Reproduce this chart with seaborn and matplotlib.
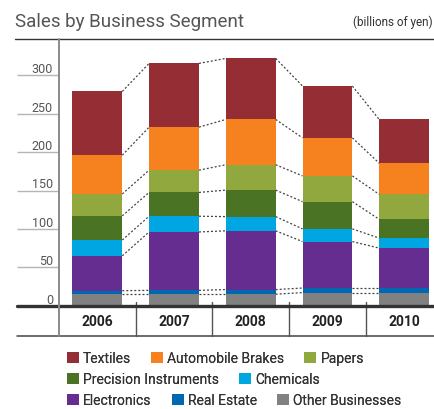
import matplotlib
matplotlib.use("Agg")
import matplotlib.pyplot as plt
import matplotlib.transforms as mtransforms
import numpy as np
import pandas as pd
import seaborn as sns

years = ["2006", "2007", "2008", "2009", "2010"]
segments = ["Other Businesses", "Real Estate", "Electronics", "Chemicals",
            "Precision Instruments", "Papers", "Automobile Brakes", "Textiles"]
other = [15, 15, 15, 17, 17]
real_estate = [4.5, 5, 6, 6, 6]
electronics = [45.5, 76, 76.5, 60.5, 52]
chemicals = [20.5, 20.5, 18.5, 16.5, 13]
precision = [31.5, 31, 34.5, 35.5, 24.5]
papers = [28.5, 29, 33, 33.5, 32.5]
brakes = [50.5, 56, 59, 49.5, 40.5]
textiles = [83, 83, 79.5, 67.5, 57]
colors = ["#818181", "#0067B1", "#652D90", "#00A6E1",
          "#4A7323", "#91A83F", "#F5821F", "#952D35"]
yticks = [0, 50, 100, 150, 200, 250, 300]

series = [other, real_estate, electronics, chemicals, precision, papers, brakes, textiles]
df = pd.DataFrame({"year": years})
for name, vals in zip(segments, series):
    df[name] = vals

sns.set_theme(style="white")
plt.rcParams["font.family"] = ["Roboto", "DejaVu Sans"]

W, H = 435, 410
fig = plt.figure(figsize=(W / 100, H / 100), dpi=100)
ax_left, ax_right, ax_top, ax_bot = 59, 442.5, 40, 306.7
ax = fig.add_axes([ax_left / W, 1 - ax_bot / H, (ax_right - ax_left) / W, (ax_bot - ax_top) / H])
axw = ax_right - ax_left
axh = ax_bot - ax_top

bw = 0.65
bottom = np.zeros(len(years))
cum_tops = []
for name, col in zip(segments, colors):
    sns.barplot(data=df, x="year", y=name, order=years, color=col, bottom=bottom,
                width=bw, saturation=1, linewidth=0, ax=ax)
    bottom = bottom + df[name].to_numpy()
    cum_tops.append(bottom.copy())

# dotted connectors between bars
for tops in cum_tops:
    for i in range(len(years) - 1):
        ax.plot([i + bw / 2, i + 1 - bw / 2], [tops[i], tops[i + 1]],
                linestyle=(0, (1.6, 1.6)), color="#444444", lw=0.9, zorder=3)

ax.set_xlim(-0.5, 4.5)
ax.set_ylim(0, (ax_bot - ax_top) / 0.768)
for s in ax.spines.values():
    s.set_visible(False)
ax.set_xlabel("")
ax.set_ylabel("")

# y ticks: long light tick lines to the left, labels above them
ax.set_yticks(yticks)
ax.set_yticklabels([str(t) for t in yticks])
tick_len_px = 42
ax.tick_params(axis="y", length=tick_len_px * 0.72, width=1, color="#b5b5b5",
               labelsize=9, labelcolor="#555555", pad=-(tick_len_px - 6) * 0.72, left=True)
for lbl in ax.get_yticklabels():
    lbl.set_verticalalignment("bottom")
    lbl.set_horizontalalignment("right")

# x ticks: year labels in table row
ax.set_xticks(range(len(years)))
ax.set_xticklabels(years)
ax.tick_params(axis="x", length=0, pad=6, labelsize=10, labelcolor="#222222")
for lbl in ax.get_xticklabels():
    lbl.set_fontweight("bold")

ta = ax.transAxes
bx = mtransforms.blended_transform_factory(ax.transData, ax.transAxes)
x_l17 = (17 - ax_left) / axw
x_l15 = (15 - ax_left) / axw
y_tab = -(337 - ax_bot) / axh

# title rule
ax.plot([x_l15, 1], [1, 1], transform=ta, color="#333333", lw=1, clip_on=False)
# baseline
ax.plot([x_l17, 1], [0, 0], transform=ta, color="#333333", lw=2.4, clip_on=False, zorder=5)
# table bottom
ax.plot([x_l17, 1], [y_tab, y_tab], transform=ta, color="#444444", lw=1.1, clip_on=False)
# vertical axis line
ax.plot([0, 0], [1, y_tab], transform=ta, color="#8a8a8a", lw=1.4, clip_on=False, zorder=6)
# table separators
for xs in np.arange(0.5, len(years) - 1, 1.0):
    ax.plot([xs, xs], [0.012, y_tab], transform=bx, color="#555555", lw=1, clip_on=False)

# titles
fig.text(15 / W, 1 - 27 / H, "Sales by Business Segment", fontsize=13.5,
         color="#555555", ha="left", va="baseline")
fig.text(433 / W, 1 - 26 / H, "(billions of yen)", fontsize=8.5, color="#333333",
         ha="right", va="baseline")

# legend rows
handles = {name: c for name, c in zip(segments, ax.containers)}
rows = [["Textiles", "Automobile Brakes", "Papers"],
        ["Precision Instruments", "Chemicals"],
        ["Electronics", "Real Estate", "Other Businesses"]]
row_y = [359, 380, 401]
fs = 10
em = fs / 72 * 100
for r, yy in zip(rows, row_y):
    lg = fig.legend([handles[n] for n in r], r, loc="center left",
                    bbox_to_anchor=(67 / W, 1 - yy / H), ncol=len(r), frameon=False,
                    fontsize=fs, handlelength=12 / em, handleheight=12 / em,
                    handletextpad=4 / em, columnspacing=20 / em, borderpad=0,
                    borderaxespad=0, labelcolor="#333333")
    fig.add_artist(lg)

fig.savefig("out.png", dpi=100)
